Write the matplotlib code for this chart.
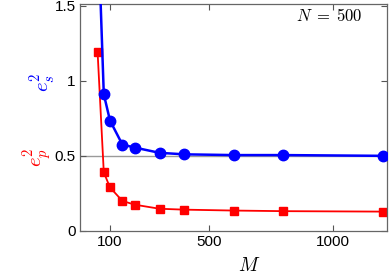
import numpy as np
import matplotlib
matplotlib.use('Agg')
import matplotlib.pyplot as plt

plt.rcParams['mathtext.fontset'] = 'cm'
plt.rcParams['font.family'] = ['Liberation Sans', 'DejaVu Sans']

# data
M = [50, 75, 100, 150, 200, 300, 400, 600, 800, 1200]
es2 = [2.1, 0.91, 0.735, 0.575, 0.555, 0.52, 0.51, 0.505, 0.505, 0.50]
ep2 = [1.19, 0.39, 0.29, 0.20, 0.175, 0.148, 0.142, 0.136, 0.132, 0.129]
xticks = [100, 500, 1000]
yticks = [0, 0.5, 1, 1.5]
yticklabels = ['0', '0.5', '1', '1.5']

F = 11
fig = plt.figure(figsize=(3.9, 2.74), dpi=100)
ax = fig.add_axes([80/390, 1-231/274, 307/390, 227/274])

ax.axhline(0.5, color='#9a9a9a', lw=1.0, zorder=1)
ax.plot(M, ep2, '-s', color='#ff0000', lw=1.3, ms=6, zorder=2)
ax.plot(M, es2, '-o', color='#0000ff', lw=1.8, ms=7.5, zorder=3)

ax.set_xlim(-21, 1218)
ax.set_ylim(0, 1.51)
ax.set_xticks(xticks)
ax.set_yticks(yticks)
ax.set_yticklabels(yticklabels)
ax.tick_params(direction='in', top=True, right=True, length=4, width=0.8,
               labelsize=F, color='#555555', pad=3)
for sp in ax.spines.values():
    sp.set_color('#666666')
    sp.set_linewidth(0.9)

ax.text(363/390, 1-7/274, r'$N\;=\;500$', transform=fig.transFigure, ha='right', va='top', fontsize=12)

fig.text(249/390, 1-266/274, r'$M$', ha='center', va='center', fontsize=14)
fig.text(43/390, 1-82/274, r'$e_s^2$', color='#0000ff', rotation=90, ha='center', va='center', fontsize=15)
fig.text(38/390, 1-157/274, r'$e_p^2$', color='#ff0000', rotation=90, ha='center', va='center', fontsize=15)

fig.savefig('out.png', dpi=100)
